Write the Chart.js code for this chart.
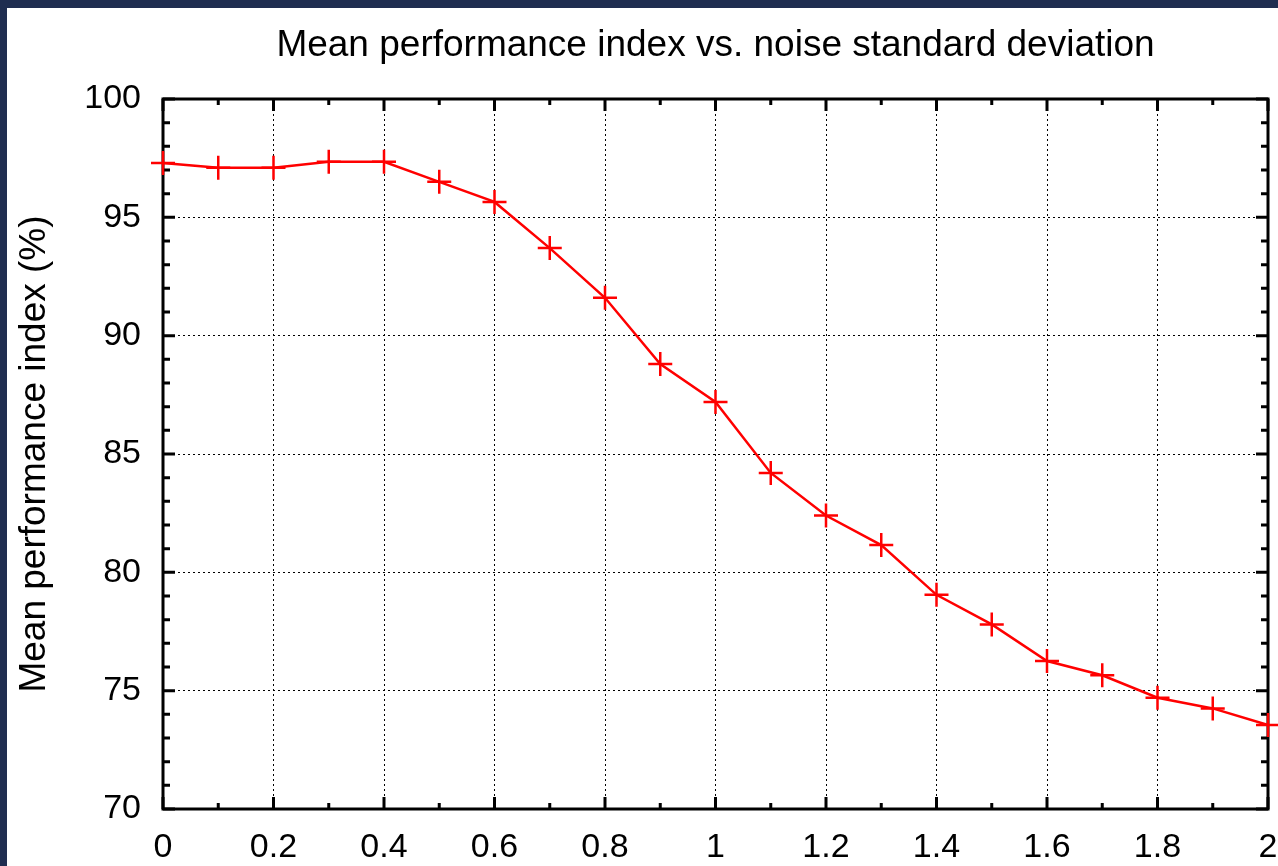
<!DOCTYPE html>
<html>
<head>
<meta charset="utf-8">
<script src="https://cdn.jsdelivr.net/npm/chart.js@4.4.0/dist/chart.umd.min.js"></script>
<style>
    body { margin: 0; background: #1f2d50; width: 1278px; height: 866px; overflow: hidden; }
    #wrap { position: absolute; left: 7px; top: 8px; width: 1271px; height: 858px; background: #ffffff; }
</style>
</head>
<body>
<div id="wrap"><canvas id="perfChart"></canvas></div>
<script>
// noise standard deviation
var noiseStd = [0, 0.1, 0.2, 0.3, 0.4, 0.5, 0.6, 0.7, 0.8, 0.9, 1.0,
                1.1, 1.2, 1.3, 1.4, 1.5, 1.6, 1.7, 1.8, 1.9, 2.0];
// mean performance index (%)
var meanPerf = [97.3, 97.1, 97.1, 97.35, 97.35, 96.5, 95.65, 93.7, 91.6, 88.8, 87.2,
                84.2, 82.4, 81.15, 79.05, 77.8, 76.25, 75.65, 74.7, 74.25, 73.55];

var xMajorTicks = [0, 0.2, 0.4, 0.6, 0.8, 1, 1.2, 1.4, 1.6, 1.8, 2];
var xMinorTicks = [0.1, 0.3, 0.5, 0.7, 0.9, 1.1, 1.3, 1.5, 1.7, 1.9];
var yMajorTicks = [70, 75, 80, 85, 90, 95, 100];
var yMinorTicks = [];
for (var v = 70; v <= 100; v++) {
    if (v % 5 !== 0) yMinorTicks.push(v);
}

var fontFamily = '"Liberation Sans", Arial, sans-serif';

// frame plus inward ticks on all four sides, like the gnuplot look
var frameTicks = {
    id: 'frameTicks',
    beforeDatasetsDraw: function(chart) {
        var ctx = chart.ctx;
        var area = chart.chartArea;
        var xs = chart.scales.x;
        var ys = chart.scales.y;
        ctx.save();
        ctx.strokeStyle = '#000000';
        ctx.lineWidth = 3;
        ctx.lineCap = 'butt';

        function tickX(val, len) {
            var px = xs.getPixelForValue(val);
            ctx.beginPath();
            ctx.moveTo(px, area.bottom);
            ctx.lineTo(px, area.bottom - len);
            ctx.moveTo(px, area.top);
            ctx.lineTo(px, area.top + len);
            ctx.stroke();
        }
        function tickY(val, len) {
            var py = ys.getPixelForValue(val);
            ctx.beginPath();
            ctx.moveTo(area.left, py);
            ctx.lineTo(area.left + len, py);
            ctx.moveTo(area.right, py);
            ctx.lineTo(area.right - len, py);
            ctx.stroke();
        }
        xMajorTicks.forEach(function(t) { tickX(t, 12); });
        xMinorTicks.forEach(function(t) { tickX(t, 6); });
        yMajorTicks.forEach(function(t) { tickY(t, 12); });
        yMinorTicks.forEach(function(t) { tickY(t, 7); });

        ctx.strokeRect(area.left, area.top, area.right - area.left, area.bottom - area.top);
        ctx.restore();
    }
};

var points = noiseStd.map(function(x, i) { return { x: x, y: meanPerf[i] }; });

new Chart(document.getElementById('perfChart').getContext('2d'), {
    type: 'line',
    data: {
        datasets: [{
            label: 'Mean performance index',
            data: points,
            borderColor: '#ff0000',
            backgroundColor: '#ff0000',
            borderWidth: 2.5,
            tension: 0,
            pointStyle: 'cross',
            pointRadius: 12,
            pointBorderWidth: 2.5,
            pointHoverRadius: 12,
            clip: false
        }]
    },
    options: {
        responsive: true,
        maintainAspectRatio: false,
        animation: false,
        layout: { autoPadding: false, padding: { top: 0, right: 10, bottom: 0, left: 0 } },
        plugins: {
            legend: { display: false },
            tooltip: { enabled: false },
            title: {
                display: true,
                text: 'Mean performance index vs. noise standard deviation',
                color: '#000000',
                fullSize: false,
                font: { family: fontFamily, size: 37, weight: 'normal' },
                padding: { top: 16, bottom: 30.6 }
            }
        },
        scales: {
            x: {
                type: 'linear',
                min: 0,
                max: 2,
                afterFit: function(scale) {
                    scale.height = 57;
                    scale.paddingLeft = 0;
                    scale.paddingRight = 0;
                },
                ticks: {
                    stepSize: 0.2,
                    color: '#000000',
                    padding: 18,
                    maxRotation: 0,
                    font: { family: fontFamily, size: 34 },
                    callback: function(value) { return Math.round(value * 10) / 10; }
                },
                grid: { color: '#000000', lineWidth: 1, drawTicks: false },
                border: { display: false, dash: [2, 3] }
            },
            y: {
                type: 'linear',
                min: 70,
                max: 100,
                afterFit: function(scale) {
                    scale.width = 156;
                    scale.paddingTop = 0;
                    scale.paddingBottom = 0;
                },
                ticks: {
                    stepSize: 5,
                    color: '#000000',
                    padding: 22,
                    font: { family: fontFamily, size: 34 }
                },
                grid: { color: '#000000', lineWidth: 1, drawTicks: false },
                border: { display: false, dash: [2, 3] },
                title: {
                    display: true,
                    text: 'Mean performance index (%)',
                    color: '#000000',
                    font: { family: fontFamily, size: 37 },
                    padding: { top: 6, bottom: 0 }
                }
            }
        }
    },
    plugins: [frameTicks]
});
</script>
</body>
</html>
